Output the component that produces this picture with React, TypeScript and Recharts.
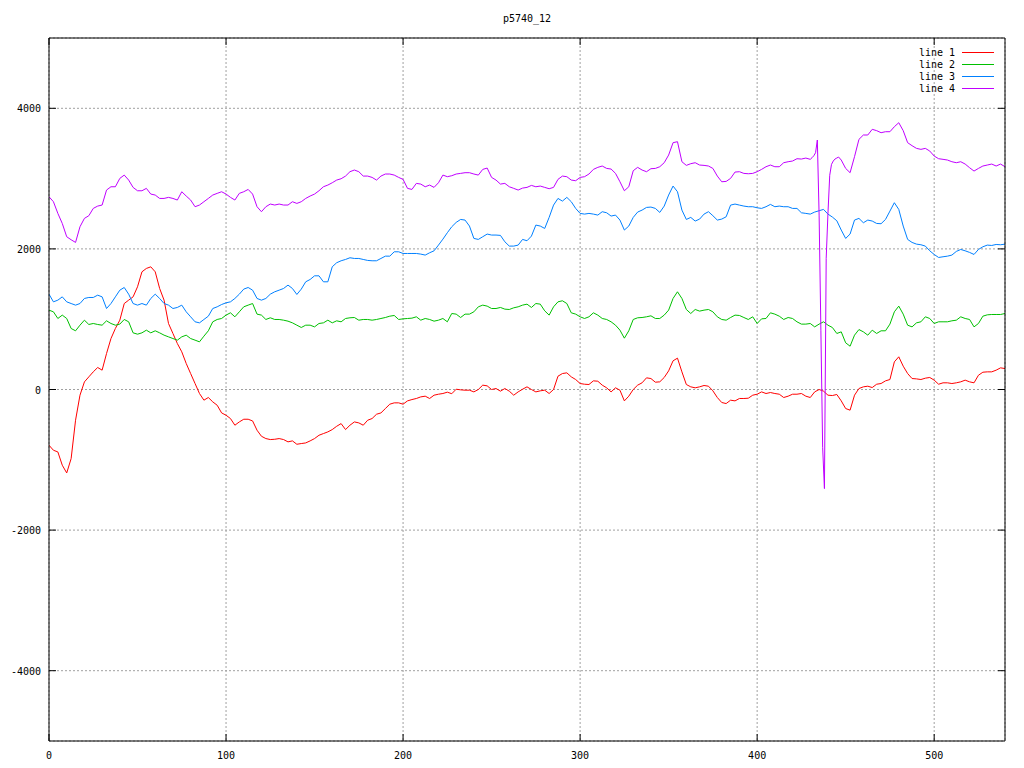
import { CartesianGrid, Legend, Line, LineChart, XAxis, YAxis } from "recharts";

// samples every 2.5 units along x (index * STEP)
const STEP = 2.5;

const LINE1 = [
  -793, -864, -888, -1077, -1187, -983, -437, -81, 108, 180, 251, 313, 275, 512, 725, 868, 986, 1223, 1271, 1318,
  1461, 1674, 1722, 1745, 1674, 1437, 1271, 939, 797, 654, 536, 370, 227, 85, -57, -152, -114, -176, -224, -333,
  -366, -413, -508, -461, -423, -423, -447, -579, -665, -698, -712, -708, -698, -712, -745, -731, -779, -769, -760, -731,
  -698, -651, -627, -603, -570, -523, -485, -570, -508, -461, -475, -508, -437, -413, -352, -333, -271, -209, -190, -190,
  -209, -162, -143, -128, -105, -95, -128, -81, -67, -57, -38, -60, 4, -5, -10, -10, -34, 0, 62, 52,
  0, 14, -24, 14, -24, -81, -34, 4, 38, 0, -34, -19, -10, -57, 0, 189, 227, 237, 180, 142,
  85, 75, 71, 123, 118, 62, 24, -34, 24, -10, -162, -95, 0, 62, 95, 166, 156, 104, 109, 171,
  265, 408, 446, 251, 71, 38, 24, 38, 57, 47, -19, -114, -185, -200, -152, -162, -128, -128, -124, -81,
  -67, -34, -57, -43, -57, -67, -114, -95, -67, -67, -57, -95, -114, -34, 0, -24, -81, -86, -71, -162,
  -271, -294, -81, 14, 38, 47, 28, 75, 85, 123, 142, 393, 465, 332, 227, 156, 151, 142, 161, 171,
  133, 75, 95, 95, 85, 95, 109, 133, 109, 95, 203, 246, 251, 251, 275, 308, 298,
];

const LINE2 = [
  1129, 1105, 1010, 1058, 1010, 868, 835, 915, 986, 925, 939, 925, 915, 977, 939, 915, 930, 996, 963, 806,
  787, 806, 844, 806, 835, 806, 773, 749, 725, 702, 749, 773, 725, 702, 678, 759, 835, 963, 996, 1010,
  1058, 1091, 1034, 1105, 1176, 1200, 1223, 1072, 1058, 996, 1020, 996, 996, 986, 972, 948, 915, 882, 915, 915,
  891, 939, 948, 986, 948, 977, 963, 1010, 1020, 1024, 986, 996, 996, 986, 996, 1010, 1024, 1043, 1053, 996,
  1005, 1010, 1015, 1034, 986, 1010, 996, 972, 986, 1010, 963, 1081, 1072, 1024, 1072, 1072, 1105, 1176, 1200, 1186,
  1152, 1152, 1167, 1143, 1138, 1162, 1176, 1200, 1214, 1167, 1223, 1214, 1119, 1058, 1176, 1247, 1262, 1223, 1091, 1072,
  1034, 1010, 1034, 1091, 1058, 1010, 996, 963, 915, 844, 730, 835, 996, 1020, 1024, 1034, 1048, 1010, 1010, 1058,
  1129, 1295, 1390, 1295, 1138, 1081, 1138, 1115, 1129, 1138, 1105, 1034, 996, 986, 1024, 1058, 1053, 1024, 996, 1034,
  939, 1005, 1010, 1091, 1072, 1043, 996, 1024, 1010, 963, 930, 930, 939, 891, 930, 963, 915, 882, 797, 820,
  664, 616, 773, 853, 820, 773, 844, 797, 835, 835, 930, 1105, 1186, 1072, 915, 891, 948, 963, 1034, 1010,
  939, 963, 963, 963, 977, 986, 1034, 1010, 996, 891, 939, 1043, 1062, 1067, 1067, 1067, 1081,
];

const LINE3 = [
  1356, 1247, 1271, 1318, 1247, 1223, 1200, 1223, 1295, 1309, 1309, 1342, 1318, 1152, 1223, 1318, 1413, 1451, 1356, 1223,
  1200, 1223, 1200, 1295, 1356, 1295, 1223, 1200, 1152, 1167, 1200, 1105, 1034, 963, 948, 996, 1043, 1152, 1176, 1209,
  1233, 1247, 1295, 1356, 1428, 1451, 1413, 1295, 1271, 1295, 1356, 1390, 1413, 1437, 1485, 1437, 1352, 1428, 1532, 1565,
  1617, 1617, 1532, 1532, 1746, 1803, 1831, 1850, 1874, 1864, 1864, 1850, 1836, 1831, 1831, 1864, 1897, 1897, 1959, 1959,
  1935, 1935, 1935, 1935, 1926, 1912, 1945, 1973, 2054, 2139, 2230, 2315, 2377, 2419, 2410, 2325, 2149, 2135, 2173, 2211,
  2197, 2197, 2192, 2101, 2040, 2040, 2054, 2135, 2116, 2182, 2339, 2325, 2291, 2448, 2623, 2718, 2680, 2733, 2671, 2576,
  2505, 2495, 2505, 2495, 2481, 2529, 2514, 2467, 2481, 2410, 2268, 2325, 2448, 2524, 2552, 2590, 2595, 2576, 2519, 2609,
  2766, 2894, 2813, 2552, 2419, 2448, 2396, 2424, 2495, 2529, 2472, 2410, 2424, 2457, 2623, 2638, 2623, 2609, 2600, 2600,
  2585, 2576, 2600, 2633, 2600, 2609, 2600, 2600, 2576, 2576, 2514, 2505, 2495, 2524, 2543, 2562, 2495, 2453, 2400, 2268,
  2149, 2211, 2410, 2434, 2372, 2410, 2396, 2362, 2358, 2419, 2538, 2657, 2562, 2325, 2135, 2092, 2068, 2059, 2040, 1973,
  1921, 1878, 1888, 1897, 1912, 1964, 1992, 1973, 1950, 1921, 1992, 2030, 2054, 2049, 2063, 2059, 2068,
];

// null where the spike samples below take over
const LINE4 = [
  2742, 2671, 2505, 2362, 2173, 2130, 2092, 2315, 2434, 2472, 2576, 2609, 2624, 2837, 2884, 2884, 3003, 3050, 2979, 2875,
  2827, 2827, 2861, 2780, 2766, 2718, 2718, 2733, 2718, 2695, 2813, 2752, 2695, 2600, 2624, 2671, 2718, 2766, 2790, 2813,
  2780, 2733, 2695, 2790, 2813, 2846, 2780, 2600, 2529, 2600, 2638, 2624, 2638, 2624, 2624, 2671, 2647, 2671, 2718, 2752,
  2780, 2827, 2884, 2908, 2941, 2979, 2998, 3036, 3098, 3122, 3098, 3036, 3036, 3017, 2979, 3036, 3065, 3065, 3050, 3017,
  2989, 2861, 2846, 2932, 2922, 2884, 2908, 2875, 2941, 3050, 3027, 3041, 3065, 3074, 3084, 3084, 3065, 3050, 3131, 3150,
  3017, 2979, 2922, 2932, 2884, 2861, 2837, 2865, 2875, 2903, 2884, 2894, 2875, 2856, 2875, 2989, 3036, 3027, 2979, 2970,
  3017, 3027, 3065, 3131, 3160, 3179, 3145, 3136, 3074, 2955, 2827, 2884, 3112, 3160, 3122, 3098, 3141, 3145, 3169, 3226,
  3335, 3511, 3525, 3240, 3188, 3212, 3226, 3193, 3188, 3179, 3145, 3036, 2955, 2960, 3003, 3093, 3098, 3074, 3069, 3074,
  3098, 3131, 3169, 3193, 3169, 3169, 3226, 3240, 3250, 3283, 3278, 3292, 3274, null, null, null, null, null, null, 3264,
  3145, 3084, 3312, 3558, 3620, 3620, 3701, 3682, 3653, 3667, 3667, 3738, 3795, 3682, 3511, 3468, 3430, 3416, 3430, 3392,
  3321, 3283, 3274, 3264, 3240, 3226, 3240, 3207, 3155, 3107, 3145, 3179, 3193, 3207, 3179, 3207, 3169,
];

const SPIKE_X = [431, 432, 433, 434, 435, 436, 437, 438, 439, 440, 441, 442, 443, 444, 445, 446];
const SPIKE_4 = [3297, 3325, 3368, 3549, 2481, 844, -822, -1410, 1866, 2506, 3047, 3203, 3250, 3279, 3293, 3307];

const X_TICKS = [0, 100, 200, 300, 400, 500];
const Y_TICKS = [-4000, -2000, 0, 2000, 4000];
const TITLE = "p5740_12";

const MONO = '"DejaVu Sans Mono", monospace';
const TICK_LEN = 7;

type Row = { x: number; l1?: number | null; l2?: number | null; l3?: number | null; l4?: number | null };

const byX = new Map<number, Row>();
LINE1.forEach((v, i) => {
  const x = i * STEP;
  byX.set(x, { x, l1: v, l2: LINE2[i], l3: LINE3[i], l4: LINE4[i] });
});
SPIKE_X.forEach((x, i) => {
  const row = byX.get(x) ?? { x };
  row.l4 = SPIKE_4[i];
  byX.set(x, row);
});
const rows = [...byX.values()].sort((a, b) => a.x - b.x);

const labelStyle = { fontFamily: MONO, fontSize: 10, fill: "#000" } as const;

function BottomTick({ x, y, payload }: any) {
  return (
    <g>
      <line x1={x} y1={y} x2={x} y2={y - TICK_LEN} stroke="#000" />
      <text x={x} y={y + 18} textAnchor="middle" {...labelStyle}>
        {payload.value}
      </text>
    </g>
  );
}

function TopTick({ x, y }: any) {
  return <line x1={x} y1={y} x2={x} y2={y + TICK_LEN} stroke="#000" />;
}

function LeftTick({ x, y, payload }: any) {
  return (
    <g>
      <line x1={x} y1={y} x2={x + TICK_LEN} y2={y} stroke="#000" />
      <text x={x - 8} y={y + 4} textAnchor="end" {...labelStyle}>
        {payload.value}
      </text>
    </g>
  );
}

function RightTick({ x, y }: any) {
  return <line x1={x} y1={y} x2={x - TICK_LEN} y2={y} stroke="#000" />;
}

function KeyBox({ payload }: any) {
  return (
    <div style={{ fontFamily: MONO, fontSize: 10, color: "#000" }}>
      {(payload ?? []).map((p: any) => (
        <div
          key={p.value}
          style={{ display: "flex", justifyContent: "flex-end", alignItems: "center", height: 12 }}
        >
          <span>{p.value}</span>
          <span style={{ display: "inline-block", width: 32, height: 1, marginLeft: 7, background: p.color }} />
        </div>
      ))}
    </div>
  );
}

const axisLine = { stroke: "#000" };

export default function App() {
  return (
    <div style={{ position: "absolute", left: 0, top: 0, width: 1024, height: 768, background: "#fff" }}>
      <div
        style={{
          position: "absolute",
          left: 427,
          top: 13,
          width: 200,
          textAlign: "center",
          fontFamily: MONO,
          fontSize: 10,
          lineHeight: "12px",
        }}
      >
        {TITLE}
      </div>
      <LineChart width={1024} height={768} data={rows} margin={{ top: 0, right: 0, bottom: 0, left: 0 }}>
        <CartesianGrid stroke="#a0a0a0" strokeDasharray="2 2" />
        <XAxis
          dataKey="x"
          type="number"
          domain={[0, 540]}
          ticks={X_TICKS}
          height={27}
          tickSize={0}
          tickMargin={0}
          tickLine={false}
          axisLine={axisLine}
          tick={<BottomTick />}
          allowDataOverflow
        />
        <XAxis
          xAxisId="top"
          orientation="top"
          dataKey="x"
          type="number"
          domain={[0, 540]}
          ticks={X_TICKS}
          height={38}
          tickSize={0}
          tickMargin={0}
          tickLine={false}
          axisLine={axisLine}
          tick={<TopTick />}
          allowDataOverflow
        />
        <YAxis
          type="number"
          domain={[-5000, 5000]}
          ticks={Y_TICKS}
          width={49}
          tickSize={0}
          tickMargin={0}
          tickLine={false}
          axisLine={axisLine}
          tick={<LeftTick />}
          allowDataOverflow
        />
        <YAxis
          yAxisId="right"
          orientation="right"
          type="number"
          domain={[-5000, 5000]}
          ticks={Y_TICKS}
          width={19}
          tickSize={0}
          tickMargin={0}
          tickLine={false}
          axisLine={axisLine}
          tick={<RightTick />}
          allowDataOverflow
        />
        <Legend
          layout="vertical"
          align="center"
          verticalAlign="middle"
          content={<KeyBox />}
          wrapperStyle={{ position: "absolute", left: 874, top: 46, width: 120 }}
        />
        <Line dataKey="l1" name="line 1" stroke="#ff0000" strokeWidth={1} dot={false} activeDot={false} connectNulls isAnimationActive={false} />
        <Line dataKey="l2" name="line 2" stroke="#00c000" strokeWidth={1} dot={false} activeDot={false} connectNulls isAnimationActive={false} />
        <Line dataKey="l3" name="line 3" stroke="#0080ff" strokeWidth={1} dot={false} activeDot={false} connectNulls isAnimationActive={false} />
        <Line dataKey="l4" name="line 4" stroke="#c000ff" strokeWidth={1} dot={false} activeDot={false} connectNulls isAnimationActive={false} />
      </LineChart>
    </div>
  );
}
